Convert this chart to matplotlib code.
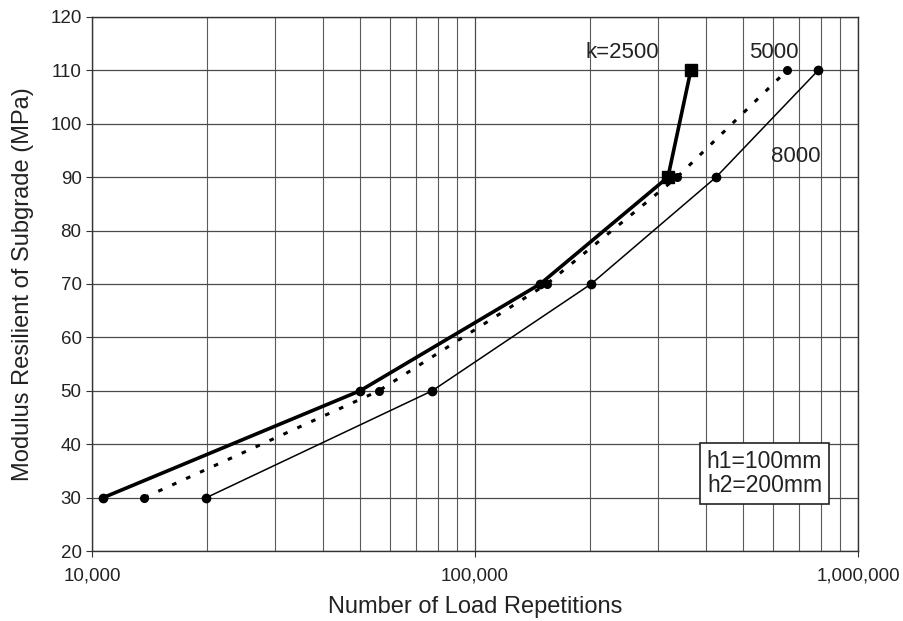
import matplotlib
matplotlib.use("Agg")
import matplotlib.pyplot as plt
from matplotlib.ticker import FixedLocator, FuncFormatter, LogLocator, NullFormatter

plt.rcParams['font.family'] = ['Liberation Sans', 'DejaVu Sans']

# modulus of subgrade (MPa)
mr = [30, 50, 70, 90, 110]

# load repetitions for each k value
n_2500 = [10700, 50100, 148000, 319000, 366000]
n_5000 = [13700, 56100, 154000, 337000, 653000]
n_8000 = [19900, 77300, 201000, 426000, 787000]

x_ticks = [10000, 100000, 1000000]
y_ticks = list(range(20, 121, 10))

fig = plt.figure(figsize=(9.04, 6.21), dpi=100)
ax = fig.add_axes([0.1018, 0.1127, 0.8473, 0.86])

# k=2500 thick line, squares on the top two points
ax.plot(n_2500, mr, color='black', lw=2.6, zorder=4)
ax.plot(n_2500[:3], mr[:3], 'o', color='black', ms=6, zorder=5)
ax.plot(n_2500[3:], mr[3:], 's', color='black', ms=8, zorder=5)

# k=5000 dotted
ax.plot(n_5000, mr, color='black', lw=2.2, ls=(0, (1.5, 3.5)),
        marker='o', ms=5.5, zorder=4)

# k=8000 thin line
ax.plot(n_8000, mr, color='black', lw=1.1, marker='o', ms=6, zorder=4)

ax.set_xscale('log')
ax.set_xlim(10000, 1000000)
ax.set_ylim(20, 120)

ax.xaxis.set_major_locator(FixedLocator(x_ticks))
ax.xaxis.set_major_formatter(FuncFormatter(lambda v, p: f"{int(v):,}"))
ax.xaxis.set_minor_locator(LogLocator(base=10, subs=range(2, 10)))
ax.xaxis.set_minor_formatter(NullFormatter())
ax.set_yticks(y_ticks)

ax.grid(True, which='major', color='#4a4a4a', lw=0.9)
ax.grid(True, which='minor', axis='x', color='#5a5a5a', lw=0.8)
ax.set_axisbelow(True)

ax.tick_params(axis='both', which='major', labelsize=13.5, length=4,
               direction='out', color='#333333', labelcolor='#222222')
ax.tick_params(axis='x', which='major', pad=8)
ax.tick_params(axis='x', which='minor', length=0)
for s in ax.spines.values():
    s.set_color('#333333')
    s.set_linewidth(1.0)

ax.set_xlabel("Number of Load Repetitions", fontsize=17, color='#222222', labelpad=8)
ax.set_ylabel("Modulus Resilient of Subgrade (MPa)", fontsize=17, color='#222222', labelpad=12)

ax.text(243000, 113.3, "k=2500", fontsize=16, ha='center', va='center', color='#222222')
ax.text(604000, 113.3, "5000", fontsize=16, ha='center', va='center', color='#222222')
ax.text(689000, 93.8, "8000", fontsize=16, ha='center', va='center', color='#222222')

ax.text(0.878, 0.145, "h1=100mm\nh2=200mm", transform=ax.transAxes,
        fontsize=16.5, ha='center', va='center', color='#222222', linespacing=1.05,
        bbox=dict(boxstyle='square,pad=0.3', fc='white', ec='#222222', lw=1.2),
        zorder=6)

fig.savefig("out.png", dpi=100)
